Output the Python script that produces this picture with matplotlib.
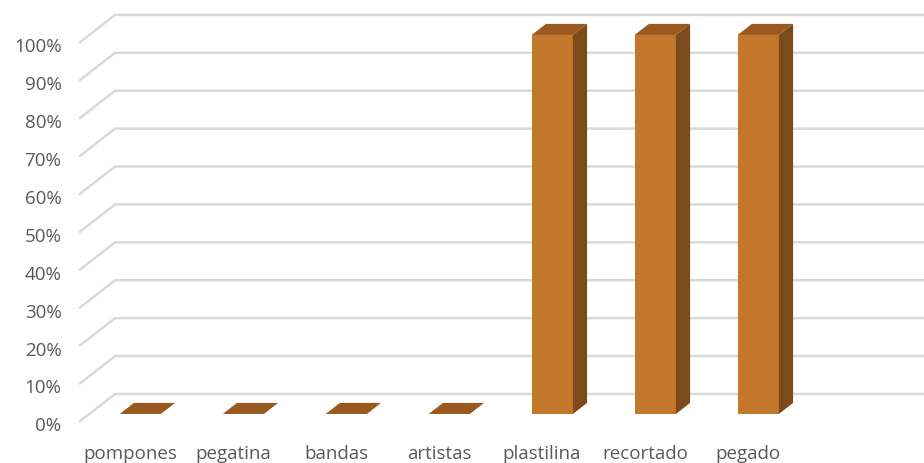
import numpy as np
import matplotlib.pyplot as plt

categories = ['pompones', 'pegatina', 'bandas', 'artistas', 'plastilina', 'recortado', 'pegado']
values = [0, 0, 0, 0, 100, 100, 100]
ticks = list(range(0, 101, 10))
tick_labels = ['%d%%' % t for t in ticks]

FRONT = '#c2772a'
TOP = '#9a5a1f'
SIDE = '#7d4a1b'
GRID = '#d9d9d9'
TEXT = '#595959'


def main():
    fig = plt.figure(figsize=(9.24, 4.64), dpi=100)
    ax = fig.add_axes([0, 0, 1, 1])
    ax.set_xlim(-1.262, 7.709)
    ax.set_ylim(-10.82, 111.6)
    ax.axis('off')

    # depth of the box in data units (left wall goes back up-right)
    ddx, ddy = 0.35, 7.4
    wall_x = -0.495
    for t, lab in zip(ticks, tick_labels):
        ax.plot([wall_x, wall_x + ddx, 9], [t, t + ddy, t + ddy],
                color=GRID, lw=1.8, solid_capstyle='butt', zorder=1)
        ax.text(-0.665, t - 0.9, lab, ha='right', va='center', fontsize=13.5,
                color=TEXT, family='Open Sans')

    # bars sit between depth d0 and d1
    d0, d1 = 0.286, 0.68
    w = 0.4
    for i, (cat, v) in enumerate(zip(categories, values)):
        ox, oy = ddx * d0, ddy * d0
        bx, by = ddx * (d1 - d0), ddy * (d1 - d0)
        x0 = i + ox - w / 2
        x1 = i + ox + w / 2
        y0 = oy
        y1 = oy + v
        # top
        ax.fill([x0, x1, x1 + bx, x0 + bx], [y1, y1, y1 + by, y1 + by],
                color=TOP, lw=0, zorder=3)
        if v > 0:
            ax.fill([x0, x1, x1, x0], [y0, y0, y1, y1], color=FRONT, lw=0, zorder=3)
            ax.fill([x1, x1 + bx, x1 + bx, x1], [y0, y0 + by, y1 + by, y1],
                    color=SIDE, lw=0, zorder=3)
        ax.text(i, -8.1, cat, ha='center', va='center', fontsize=13.5,
                color=TEXT, family='Open Sans')

    fig.savefig('out.png', dpi=100)


if __name__ == "__main__":
    main()
